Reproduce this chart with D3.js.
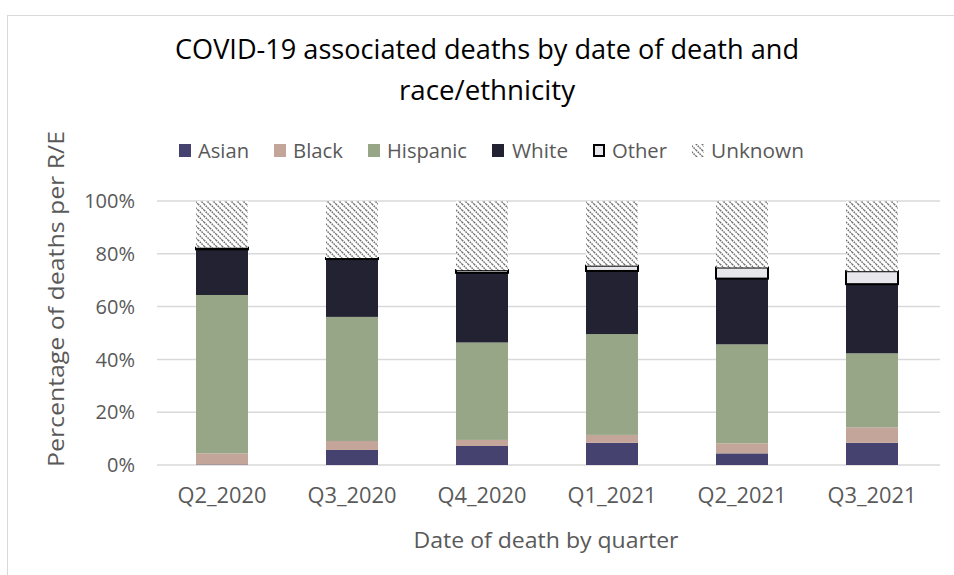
<!DOCTYPE html>
<html><head><meta charset="utf-8">
<script src="https://cdn.jsdelivr.net/npm/d3@7"></script>
<style>body{margin:0;background:#fff;} svg{display:block;}</style>
</head><body>
<svg id="chart" width="954" height="575"></svg>
<script>
const categories = ["Q2_2020","Q3_2020","Q4_2020","Q1_2021","Q2_2021","Q3_2021"];
const seriesNames = ["Asian","Black","Hispanic","White","Other","Unknown"];
const asian    = [0.2, 5.7, 7.2, 8.4, 4.4, 8.4];
const black    = [4.2, 3.4, 2.3, 3.0, 3.8, 5.9];
const hispanic = [60.0, 47.0, 36.9, 38.2, 37.5, 28.0];
const white    = [17.3, 21.9, 26.4, 23.9, 24.9, 26.2];
const other    = [0.6, 0.4, 1.0, 2.0, 4.2, 4.9];
const unknown  = [17.7, 21.6, 26.2, 24.5, 25.2, 26.6];
const yTicks = [0,20,40,60,80,100];

const svg = d3.select("#chart");
const W = 954, H = 575;
const FONT = "'Open Sans', Lato, sans-serif";
const GRAY = "#595959";

// outer border
svg.append("rect").attr("x",7.5).attr("y",15.5).attr("width",W+10).attr("height",H+10)
  .attr("fill","#fff").attr("stroke","#d9d9d9").attr("stroke-width",1);

const defs = svg.append("defs");
const pat = defs.append("pattern").attr("id","hatch").attr("patternUnits","userSpaceOnUse")
  .attr("width",6).attr("height",6);
pat.append("rect").attr("width",6).attr("height",6).attr("fill","#fff");
pat.append("path").attr("d","M0,0 L6,6 M-1,5 L1,7 M5,-1 L7,1")
  .attr("stroke","#707070").attr("stroke-width",1.5).attr("stroke-dasharray","1.6,0.9");

const colors = {Asian:"#45426f", Black:"#c4a59a", Hispanic:"#97a686", White:"#222232", Other:"#e7e7ec", Unknown:"url(#hatch)"};

const x = d3.scaleBand().domain(categories).range([157, 937]).paddingInner(0.6).paddingOuter(0.3);
const y = d3.scaleLinear().domain([0,100]).range([465, 201]);

// gridlines
svg.append("g").selectAll("line").data(yTicks).join("line")
  .attr("x1",157).attr("x2",940)
  .attr("y1",d=>y(d)).attr("y2",d=>y(d))
  .attr("stroke","#d9d9d9").attr("stroke-width",1.5);

// y tick labels
svg.append("g").selectAll("text").data(yTicks).join("text")
  .attr("x",135).attr("y",d=>y(d)).attr("dy","0.36em")
  .attr("text-anchor","end").attr("fill",GRAY)
  .style("font-family",FONT).style("font-size","20px")
  .text(d=>d+"%");

// data table
const table = categories.map((c,i)=>({cat:c, Asian:asian[i], Black:black[i], Hispanic:hispanic[i], White:white[i], Other:other[i], Unknown:unknown[i]}));
const stacked = d3.stack().keys(seriesNames)(table);

const gBars = svg.append("g");
stacked.forEach(s=>{
  const key = s.key;
  gBars.append("g").selectAll("rect").data(s).join("rect")
    .attr("x",d=>x(d.data.cat))
    .attr("width",x.bandwidth())
    .attr("y",d=>y(d[1]))
    .attr("height",d=>Math.max(0,y(d[0])-y(d[1])))
    .attr("fill",colors[key])
    .attr("stroke", key==="Other" ? "#000" : "none")
    .attr("stroke-width", key==="Other" ? 2 : 0);
});

// x tick labels
svg.append("g").selectAll("text").data(categories).join("text")
  .attr("x",d=>x(d)+x.bandwidth()/2).attr("y",503)
  .attr("text-anchor","middle").attr("fill",GRAY)
  .style("font-family",FONT).style("font-size","21px")
  .attr("textLength",89).attr("lengthAdjust","spacingAndGlyphs")
  .text(d=>d);

// axis titles
svg.append("text").attr("x",546).attr("y",548).attr("text-anchor","middle").attr("fill",GRAY)
  .style("font-family",FONT).style("font-size","22px")
  .attr("textLength",265).attr("lengthAdjust","spacingAndGlyphs")
  .text("Date of death by quarter");
svg.append("text").attr("transform","translate(64,299) rotate(-90)").attr("text-anchor","middle").attr("fill",GRAY)
  .style("font-family",FONT).style("font-size","21px")
  .attr("textLength",336).attr("lengthAdjust","spacingAndGlyphs")
  .text("Percentage of deaths per R/E");

// title
svg.append("text").attr("x",487).attr("y",59).attr("text-anchor","middle").attr("fill","#000")
  .style("font-family",FONT).style("font-size","27px")
  .attr("textLength",624).attr("lengthAdjust","spacingAndGlyphs")
  .text("COVID-19 associated deaths by date of death and");
svg.append("text").attr("x",487).attr("y",100).attr("text-anchor","middle").attr("fill","#000")
  .style("font-family",FONT).style("font-size","27px")
  .attr("textLength",176).attr("lengthAdjust","spacingAndGlyphs")
  .text("race/ethnicity");

// legend
const legendPos = [
  {k:"Asian",    sx:179, tx:198, tw:51},
  {k:"Black",    sx:274, tx:293, tw:50},
  {k:"Hispanic", sx:368, tx:387, tw:80},
  {k:"White",    sx:492, tx:512, tw:56},
  {k:"Other",    sx:593, tx:612, tw:55},
  {k:"Unknown",  sx:692, tx:711, tw:93}
];
const lg = svg.append("g");
legendPos.forEach(p=>{
  const isOther = p.k==="Other";
  lg.append("rect").attr("x",p.sx+(isOther?1:0)).attr("y",144+(isOther?1:0))
    .attr("width",isOther?10:12).attr("height",isOther?11:13)
    .attr("fill",colors[p.k]).attr("stroke",isOther?"#000":"none").attr("stroke-width",isOther?2:0);
  lg.append("text").attr("x",p.tx).attr("y",151).attr("dy","0.36em").attr("fill",GRAY)
    .style("font-family",FONT).style("font-size","20px")
    .attr("textLength",p.tw).attr("lengthAdjust","spacingAndGlyphs")
    .text(p.k);
});
</script>
</body></html>
